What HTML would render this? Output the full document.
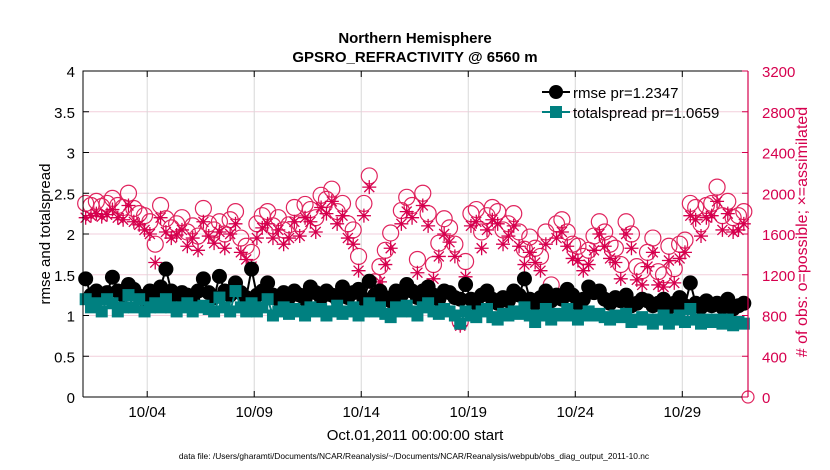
<!DOCTYPE html>
<html><head><meta charset="utf-8"><style>
body{margin:0;background:#fff;}
svg{display:block;font-family:"Liberation Sans",Arial,sans-serif;}
</style></head><body>
<svg id="chart" width="830" height="470">
<text x="415" y="43" text-anchor="middle" font-size="15" font-weight="bold">Northern Hemisphere</text>
<text x="415" y="62" text-anchor="middle" font-size="15" font-weight="bold">GPSRO_REFRACTIVITY @ 6560 m</text>
<g id="grid"></g>
<g id="marks"></g>
<g id="axes"></g>
<g>
<g><line x1="542" y1="92" x2="570" y2="92" stroke="#000" stroke-width="2"/><circle cx="556" cy="92" r="7" fill="#000"/><text x="573" y="98" font-size="15">rmse pr=1.2347</text></g>
<g><line x1="542" y1="112" x2="570" y2="112" stroke="#008080" stroke-width="2"/><rect x="550" y="106" width="12" height="12" fill="#008080"/><text x="573" y="118" font-size="15">totalspread pr=1.0659</text></g>
</g>
<text transform="translate(50,234) rotate(-90)" text-anchor="middle" font-size="15">rmse and totalspread</text>
<text transform="translate(807,232) rotate(-90)" text-anchor="middle" font-size="16" fill="#d6004e"># of obs: o=possible; ×=assimilated</text>
<text x="415" y="440" text-anchor="middle" font-size="15">Oct.01,2011 00:00:00 start</text>
<text x="414" y="459" text-anchor="middle" font-size="8.4">data file: /Users/gharamti/Documents/NCAR/Reanalysis/~/Documents/NCAR/Reanalysis/webpub/obs_diag_output_2011-10.nc</text>
</svg>
<script>
const xTickLabels=["10/04","10/09","10/14","10/19","10/24","10/29"];
const xTickDays=[3,8,13,18,23,28];
const leftTicks=[0,0.5,1,1.5,2,2.5,3,3.5,4];
const rightTicks=[0,400,800,1200,1600,2000,2400,2800,3200];
const possible=[1900,1880,1920,1870,1900,1950,1880,1860,2000,1850,1800,1780,1720,1500,1880,1750,1660,1700,1760,1620,1680,1580,1850,1700,1640,1720,1600,1740,1820,1560,1480,1420,1700,1780,1820,1680,1760,1640,1690,1860,1700,1890,1840,1760,1980,1940,2040,1820,1900,1700,1640,1380,1900,2170,1130,1280,1440,1610,960,1830,1960,1880,1350,2000,1800,1300,1510,1750,1660,1500,740,1330,1800,1840,1620,1780,1860,1820,1640,1700,1800,1620,1450,1570,1460,1380,1620,1100,1700,1740,1620,1500,1480,1380,1440,1580,1720,1620,1500,1460,1300,1720,1600,1280,1240,1420,1560,1230,1200,1480,1260,1500,1540,1900,1860,1700,1880,1900,2060,1780,1920,1760,1780,1820];
const assimilated=[1760,1780,1800,1770,1790,1840,1760,1740,1880,1720,1690,1640,1600,1320,1760,1620,1560,1590,1640,1480,1560,1440,1720,1580,1510,1620,1460,1600,1700,1420,1350,1280,1560,1660,1700,1560,1640,1500,1560,1720,1580,1760,1720,1620,1860,1800,1920,1700,1780,1560,1500,1240,1780,2060,1000,1130,1300,1460,850,1700,1820,1760,1220,1880,1680,1160,1380,1600,1520,1380,700,1180,1680,1720,1460,1640,1740,1700,1500,1580,1680,1480,1300,1420,1320,1240,1500,980,1560,1620,1480,1360,1340,1240,1300,1440,1600,1480,1360,1320,1160,1600,1460,1150,1100,1280,1420,1100,1080,1340,1120,1360,1420,1780,1740,1580,1760,1780,1920,1640,1800,1620,1640,1700];
const rmse=[1.45,1.25,1.3,1.22,1.28,1.47,1.3,1.25,1.38,1.32,1.24,1.2,1.3,1.25,1.35,1.57,1.3,1.22,1.28,1.25,1.2,1.3,1.45,1.28,1.22,1.48,1.3,1.25,1.4,1.28,1.22,1.57,1.25,1.3,1.4,1.25,1.2,1.28,1.22,1.3,1.25,1.2,1.35,1.28,1.22,1.3,1.25,1.2,1.35,1.22,1.28,1.32,1.2,1.42,1.25,1.3,1.22,1.18,1.3,1.25,1.38,1.3,1.22,1.3,1.35,1.25,1.2,1.3,1.28,1.22,1.2,1.38,1.2,1.15,1.25,1.3,1.2,1.15,1.22,1.18,1.3,1.25,1.45,1.2,1.15,1.22,1.3,1.18,1.25,1.2,1.32,1.25,1.15,1.2,1.35,1.28,1.3,1.2,1.15,1.22,1.18,1.25,1.12,1.15,1.2,1.18,1.12,1.15,1.2,1.1,1.15,1.22,1.12,1.4,1.15,1.1,1.18,1.12,1.15,1.1,1.2,1.08,1.12,1.15];
const spread=[1.2,1.1,1.15,1.05,1.2,1.15,1.05,1.1,1.25,1.1,1.2,1.05,1.1,1.15,1.1,1.2,1.1,1.05,1.1,1.15,1.05,1.1,1.12,1.08,1.05,1.22,1.1,1.05,1.3,1.1,1.05,1.15,1.05,1.1,1.2,1.0,1.05,1.1,1.02,1.08,1.05,1.0,1.1,1.05,1.08,1.0,1.05,1.12,1.02,1.05,1.1,1.0,1.05,1.15,1.05,1.1,1.02,0.98,1.1,1.05,1.12,1.05,1.0,1.1,1.15,1.05,1.02,1.08,1.05,1.0,0.9,1.05,1.0,0.98,1.05,1.08,0.98,0.95,1.02,1.0,1.05,1.02,1.1,1.0,0.92,1.0,1.08,0.95,1.02,1.0,1.08,1.0,0.95,1.0,1.05,1.0,1.02,0.98,0.95,1.0,0.98,1.02,0.92,0.95,0.98,0.95,0.9,0.95,1.0,0.9,0.95,1.0,0.92,1.08,0.95,0.9,0.95,0.92,0.95,0.9,0.95,0.88,0.92,0.9];

const L=83,R=748,T=71,B=397,DMAX=31.07;
const NS="http://www.w3.org/2000/svg";
const X=d=>L+(d/DMAX)*(R-L);
const YL=v=>B-(v/4)*(B-T);
const YR=v=>B-(v/3200)*(B-T);
const dayOf=i=>0.25*i+0.125;
function mk(tag,attrs,parent){const e=document.createElementNS(NS,tag);for(const k in attrs)e.setAttribute(k,attrs[k]);parent.appendChild(e);return e;}
const grid=document.getElementById('grid'),marks=document.getElementById('marks'),axes=document.getElementById('axes');

leftTicks.forEach((v,i)=>{if(v>0&&v<4){const g=mk('line',{x1:L,x2:R,y1:YL(v),y2:YL(v),stroke:'#f2cfdc','stroke-width':1},grid);

}});
xTickDays.forEach((d,i)=>{const g=mk('line',{x1:X(d),x2:X(d),y1:T,y2:B,stroke:'#d8d8d8','stroke-width':1},grid);

});

possible.forEach((v,i)=>{const c=mk('circle',{cx:X(dayOf(i)),cy:YR(v),r:8,fill:'none',stroke:'#e0245e','stroke-width':1.2},marks);

});
assimilated.forEach((v,i)=>{const x=X(dayOf(i)),y=YR(v),s=7;
const p=mk('path',{d:`M${x-s},${y}H${x+s}M${x},${y-s}V${y+s}M${x-5},${y-5}L${x+5},${y+5}M${x-5},${y+5}L${x+5},${y-5}`,stroke:'#d6004e','stroke-width':1.3,fill:'none'},marks);

});

const rl=mk('polyline',{points:rmse.map((v,i)=>X(dayOf(i))+','+YL(v)).join(' '),fill:'none',stroke:'#000','stroke-width':2},marks);


rmse.forEach((v,i)=>{const c=mk('circle',{cx:X(dayOf(i)),cy:YL(v),r:7.5,fill:'#000'},marks);

});
const sl=mk('polyline',{points:spread.map((v,i)=>X(dayOf(i))+','+YL(v)).join(' '),fill:'none',stroke:'#008080','stroke-width':2},marks);


spread.forEach((v,i)=>{const c=mk('rect',{x:X(dayOf(i))-6,y:YL(v)-6,width:12,height:12,fill:'#008080'},marks);

});

const zc=mk('circle',{cx:R,cy:B,r:6,fill:'none',stroke:'#e0245e','stroke-width':1.2},marks);



const frame=mk('path',{d:`M${L},${B}V${T}H${R}`,fill:'none',stroke:'#000','stroke-width':1},axes);


const bx=mk('line',{x1:L,x2:R,y1:B,y2:B,stroke:'#000'},axes);


const ra=mk('line',{x1:R,x2:R,y1:T,y2:B,stroke:'#d6004e','stroke-width':1.2},axes);


leftTicks.forEach(v=>{const t=mk('text',{x:L-8,y:YL(v)+6,'text-anchor':'end','font-size':15},axes);t.textContent=String(v);


mk('line',{x1:L,x2:L+6,y1:YL(v),y2:YL(v),stroke:'#000'},axes);});
rightTicks.forEach(v=>{const t=mk('text',{x:R+14,y:YR(v)+6,'font-size':15,fill:'#d6004e'},axes);t.textContent=String(v);


mk('line',{x1:R-6,x2:R,y1:YR(v),y2:YR(v),stroke:'#d6004e'},axes);});
xTickDays.forEach((d,i)=>{const t=mk('text',{x:X(d),y:B+20,'text-anchor':'middle','font-size':15},axes);t.textContent=xTickLabels[i];


mk('line',{x1:X(d),x2:X(d),y1:B,y2:B-6,stroke:'#000'},axes);mk('line',{x1:X(d),x2:X(d),y1:T,y2:T+6,stroke:'#000'},axes);});
</script>
</body></html>
